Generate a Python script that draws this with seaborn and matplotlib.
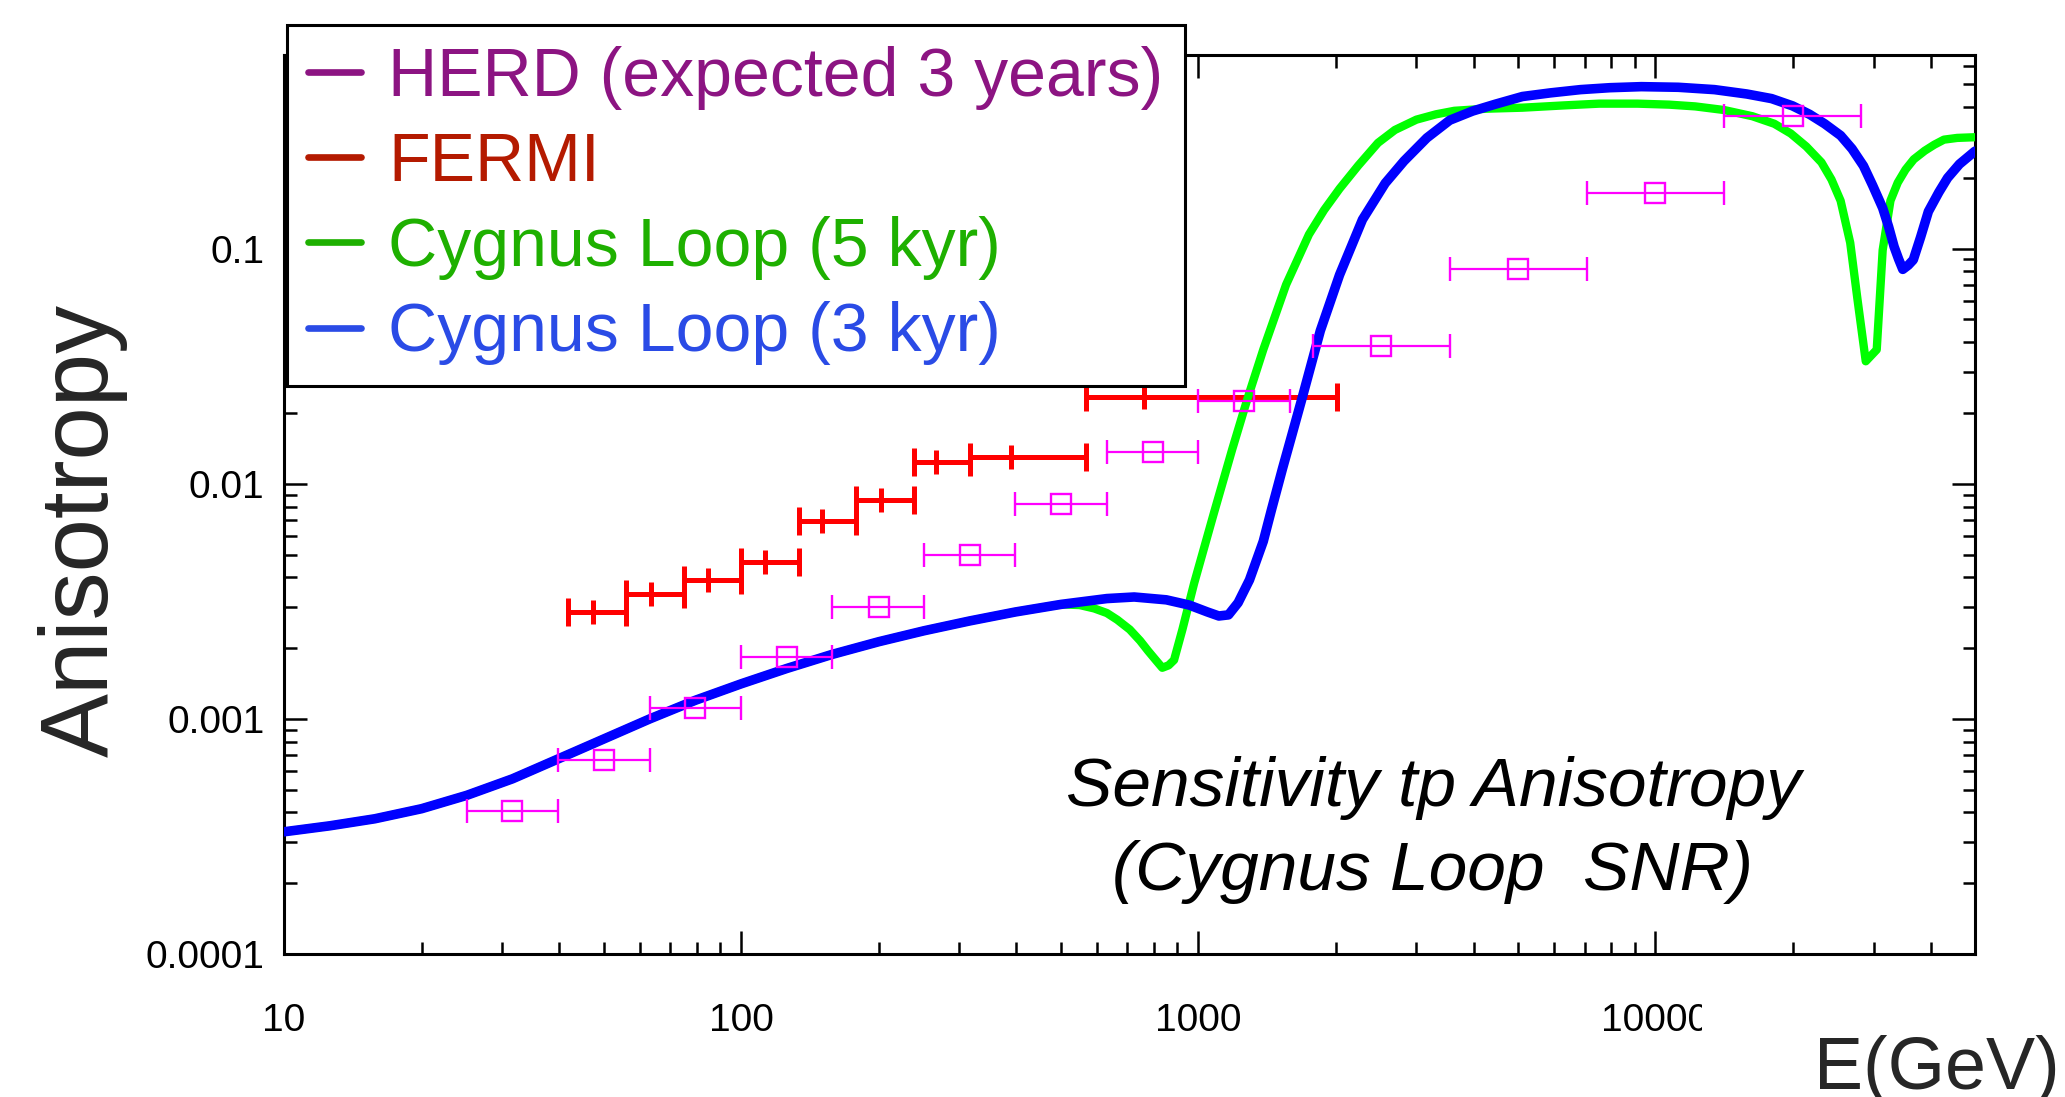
import matplotlib
matplotlib.use("Agg")
import matplotlib.pyplot as plt
import pandas as pd
import seaborn as sns
from matplotlib.lines import Line2D
from matplotlib.ticker import LogLocator, NullFormatter
from matplotlib.transforms import Bbox, TransformedBbox

# ---------------- data ----------------
# Cygnus Loop SNR model, age 3 kyr
cyg3_energy = [10, 12.6, 15.8, 20.0, 25.1, 31.6, 39.8, 50.1, 63.1, 79.4, 100, 126, 158,
               200, 251, 316, 398, 501, 631, 724, 851, 955, 1047, 1109, 1164, 1222,
               1294, 1387, 1445, 1528, 1603, 1683, 1849, 2037, 2286, 2564, 2818, 3162,
               3548, 3981, 4467, 5117, 5888, 6855, 7943, 9311, 11220, 13459, 15849,
               17947, 19953, 21727, 23442, 25410, 26915, 28510, 29854, 31405, 32359,
               33266, 34041, 34754, 35727, 36644, 38019, 39537, 41687, 43551, 46238,
               50000]
cyg3_aniso = [3.31e-4, 3.51e-4, 3.76e-4, 4.15e-4, 4.73e-4, 5.56e-4, 6.76e-4, 8.22e-4,
              1.00e-3, 1.20e-3, 1.41e-3, 1.64e-3, 1.88e-3, 2.13e-3, 2.37e-3, 2.61e-3,
              2.85e-3, 3.07e-3, 3.25e-3, 3.30e-3, 3.21e-3, 3.05e-3, 2.85e-3, 2.74e-3,
              2.77e-3, 3.12e-3, 3.90e-3, 5.69e-3, 7.73e-3, 1.16e-2, 1.62e-2, 2.28e-2,
              4.48e-2, 7.74e-2, 0.133, 0.190, 0.236, 0.296, 0.352, 0.385, 0.412, 0.444,
              0.460, 0.475, 0.484, 0.489, 0.486, 0.475, 0.455, 0.435, 0.405, 0.373,
              0.340, 0.303, 0.266, 0.225, 0.186, 0.149, 0.124, 0.102, 0.0902, 0.0817,
              0.0851, 0.0897, 0.112, 0.144, 0.174, 0.200, 0.229, 0.260]

# Cygnus Loop SNR model, age 5 kyr
cyg5_energy = [10, 12.6, 15.8, 20.0, 25.1, 31.6, 39.8, 50.1, 63.1, 79.4, 100, 126, 158,
               200, 251, 316, 398, 501, 550, 592, 631, 665, 708, 746, 776, 807, 834,
               861, 885, 923, 979, 1079, 1186, 1279, 1387, 1556, 1746, 1884, 2037,
               2239, 2472, 2692, 3000, 3311, 3631, 4266, 5117, 6310, 7534, 9141, 10715,
               12218, 14125, 16293, 18197, 19770, 21380, 23067, 24266, 25410, 26669,
               27669, 28840, 30479, 31405, 32659, 33884, 35237, 36728, 38815, 40738,
               42756, 45709, 50000]
cyg5_aniso = [3.31e-4, 3.51e-4, 3.76e-4, 4.15e-4, 4.73e-4, 5.56e-4, 6.76e-4, 8.22e-4,
              1.00e-3, 1.20e-3, 1.41e-3, 1.64e-3, 1.88e-3, 2.13e-3, 2.37e-3, 2.61e-3,
              2.85e-3, 3.07e-3, 3.05e-3, 2.95e-3, 2.82e-3, 2.64e-3, 2.40e-3, 2.15e-3,
              1.95e-3, 1.78e-3, 1.65e-3, 1.69e-3, 1.78e-3, 2.40e-3, 3.77e-3, 7.38e-3,
              1.40e-2, 2.28e-2, 3.72e-2, 7.03e-2, 0.115, 0.146, 0.180, 0.226, 0.282,
              0.320, 0.354, 0.373, 0.386, 0.394, 0.398, 0.407, 0.414, 0.414, 0.410,
              0.403, 0.389, 0.366, 0.340, 0.309, 0.272, 0.233, 0.197, 0.160, 0.106,
              0.0607, 0.0332, 0.0372, 0.0986, 0.160, 0.191, 0.217, 0.240, 0.261, 0.277,
              0.291, 0.296, 0.298]

# FERMI measurement: mean energy, bin edges, anisotropy
fermi_energy = [47.4, 63.4, 84.5, 113, 150, 202, 267, 390, 762]
fermi_lo = [41.8, 56.1, 75.0, 99.7, 133.7, 178, 239, 317, 568]
fermi_hi = [56.1, 75.0, 99.7, 133.7, 178, 239, 317, 568, 2009]
fermi_aniso = [2.84e-3, 3.39e-3, 3.90e-3, 4.63e-3, 6.92e-3, 8.5e-3, 1.24e-2, 1.30e-2, 2.33e-2]

# HERD expected sensitivity (3 years)
herd_energy = [31.6, 50.1, 79.4, 126, 200, 316, 501, 794, 1259, 2512, 5012, 10000, 19953]
herd_lo = [25.1, 39.8, 63.1, 100, 158, 251, 398, 631, 1000, 1778, 3548, 7079, 14125]
herd_hi = [39.8, 63.1, 100, 158, 251, 398, 631, 1000, 1585, 3548, 7079, 14125, 28184]
herd_aniso = [4.07e-4, 6.7e-4, 1.11e-3, 1.84e-3, 3.0e-3, 5.0e-3, 8.2e-3, 1.36e-2,
              2.24e-2, 3.86e-2, 8.17e-2, 0.173, 0.366]

x_ticks = [10, 100, 1000, 10000]
x_tick_labels = ["10", "100", "1000", "10000"]
y_ticks = [1e-4, 1e-3, 1e-2, 1e-1]
y_tick_labels = ["0.0001", "0.001", "0.01", "0.1"]

legend_labels = ["HERD (expected 3 years)", "FERMI", "Cygnus Loop (5 kyr)", "Cygnus Loop (3 kyr)"]
legend_colors = ["#8C1482", "#B41A00", "#1EB000", "#2A4BE6"]

# ---------------- style ----------------
sns.set_style("ticks")
plt.rcParams["font.family"] = ["Liberation Sans", "DejaVu Sans"]

W, H = 2065, 1097
fig = plt.figure(figsize=(W / 100, H / 100), dpi=100)
ax = fig.add_axes([284 / W, 1 - 954 / H, (1975 - 284) / W, (954 - 54.5) / H])
ax.set_xscale("log")
ax.set_yscale("log")

df5 = pd.DataFrame({"E": cyg5_energy, "A": cyg5_aniso})
df3 = pd.DataFrame({"E": cyg3_energy, "A": cyg3_aniso})

# FERMI bins: thick bars with end caps and a tick at the mean energy
ax.errorbar(fermi_energy, fermi_aniso,
            xerr=[[e - l for e, l in zip(fermi_energy, fermi_lo)],
                  [h - e for e, h in zip(fermi_energy, fermi_hi)]],
            fmt="|", color="#FF0000", ms=16.6, mew=3.6, elinewidth=3.6,
            capsize=10, capthick=3.6, zorder=3)

sns.lineplot(data=df5, x="E", y="A", ax=ax, color="#00FF00", lw=6.0,
             sort=False, estimator=None, zorder=4)
sns.lineplot(data=df3, x="E", y="A", ax=ax, color="#0000FF", lw=6.9,
             sort=False, estimator=None, zorder=5)

# HERD points: open squares with energy-bin error bars
ax.errorbar(herd_energy, herd_aniso,
            xerr=[[e - l for e, l in zip(herd_energy, herd_lo)],
                  [h - e for e, h in zip(herd_energy, herd_hi)]],
            fmt="s", mfc="none", mec="#FF00FF", ms=13.7, mew=1.7,
            ecolor="#FF00FF", elinewidth=1.6, capsize=8.3, capthick=1.6, zorder=6)

ax.set_xlim(10, 5e4)
ax.set_ylim(1e-4, 0.67)

ax.set_xticks(x_ticks, labels=x_tick_labels)
ax.set_yticks(y_ticks, labels=y_tick_labels)
ax.xaxis.set_minor_locator(LogLocator(base=10, subs=range(2, 10), numticks=20))
ax.yaxis.set_minor_locator(LogLocator(base=10, subs=range(2, 10), numticks=20))
ax.xaxis.set_minor_formatter(NullFormatter())
ax.yaxis.set_minor_formatter(NullFormatter())

ax.tick_params(which="both", direction="in", top=True, right=True, color="black",
               labelcolor="black")
ax.tick_params(which="major", length=16.5, width=1.8, labelsize=28)
ax.tick_params(which="minor", length=9, width=1.8)
ax.tick_params(axis="x", which="major", pad=35)
ax.tick_params(axis="y", which="major", pad=14)
for sp in ax.spines.values():
    sp.set_linewidth(2.2)
    sp.set_color("black")

ax.set_xlabel("E(GeV)", fontsize=53, ha="left", va="baseline")
ax.xaxis.set_label_coords((1814 - 284) / 1691, (954 - 1089) / 899.5)
ax.set_ylabel("Anisotropy", fontsize=69)
ax.yaxis.set_label_coords((128 - 284) / 1691, (954 - 530) / 899.5)

ax.text((1433 - 284) / 1691, (954 - 830) / 899.5,
        "Sensitivity tp Anisotropy\n(Cygnus Loop  SNR)",
        transform=ax.transAxes, ha="center", va="center", fontsize=50,
        style="italic", linespacing=1.39, color="black")

handles = [Line2D([], [], color=c, lw=4.8) for c in legend_colors]
leg = ax.legend(handles, legend_labels, loc="upper left",
                bbox_to_anchor=(287 / W, 1 - 25 / H), bbox_transform=fig.transFigure,
                fontsize=49, labelcolor=legend_colors, frameon=True, fancybox=False,
                edgecolor="black", framealpha=1, borderpad=0.31, borderaxespad=0,
                handlelength=0.78, handletextpad=0.4, labelspacing=0.31)
leg.get_frame().set_linewidth(2.2)
leg.set_zorder(10)

# the last energy label is cut short at the frame edge
fig.canvas.draw()
for lab in ax.get_xticklabels():
    if lab.get_text() == "10000":
        lab.set_clip_box(TransformedBbox(Bbox.from_extents(0, 0, 1702 / W, 1), fig.transFigure))
        lab.set_clip_on(True)

fig.savefig("out.png", dpi=100)
